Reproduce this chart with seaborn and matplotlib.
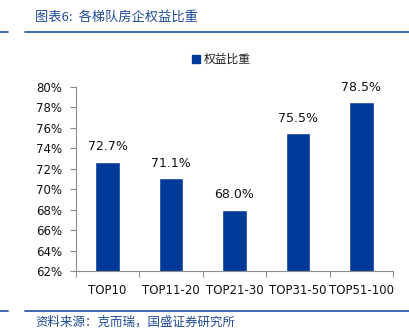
import matplotlib
matplotlib.use("Agg")
import matplotlib.pyplot as plt
from matplotlib.lines import Line2D
from matplotlib.patches import Rectangle
import seaborn as sns
import pandas as pd

categories = ["TOP10", "TOP11-20", "TOP21-30", "TOP31-50", "TOP51-100"]
equity_share = [72.7, 71.1, 68.0, 75.5, 78.5]
y_ticks = [62, 64, 66, 68, 70, 72, 74, 76, 78, 80]
series_name = "权益比重"
title_text = "图表6:  各梯队房企权益比重"
source_text = "资料来源：克而瑞，国盛证券研究所"

bar_color = "#003A98"
rule_color = "#2F5EA6"

sns.set_theme(style="white")
plt.rcParams["font.family"] = ["DejaVu Sans", "Noto Sans CJK SC"]

df = pd.DataFrame({"tier": categories, "share": equity_share})

fig = plt.figure(figsize=(4.10, 3.33), dpi=100)
ax = fig.add_axes([0.185, 0.186, 0.774, 0.553])

sns.barplot(data=df, x="tier", y="share", color=bar_color, width=0.39,
            saturation=1, ax=ax)

ax.set_ylim(62, 80)
ax.set_xlim(-0.5, len(categories) - 0.5)
ax.set_yticks(y_ticks)
ax.set_yticklabels([f"{v}%" for v in y_ticks], fontsize=8.5, color="#111111")
ax.set_xticks(range(len(categories)))
ax.set_xticklabels(categories, fontsize=8.5, color="#111111")
ax.set_xlabel("")
ax.set_ylabel("")

for side in ("top", "right"):
    ax.spines[side].set_visible(False)
for side in ("left", "bottom"):
    ax.spines[side].set_color("#8C8C8C")
    ax.spines[side].set_linewidth(0.8)

# y ticks: short marks pointing left
ax.tick_params(axis="y", which="major", length=4, width=0.8, color="#8C8C8C",
               direction="out", pad=6, left=True)
# x axis: tick marks sit at category boundaries
ax.tick_params(axis="x", which="major", length=0, pad=9, bottom=True)
ax.set_xticks([i - 0.5 for i in range(len(categories) + 1)], minor=True)
ax.tick_params(axis="x", which="minor", length=4, width=0.8, color="#8C8C8C",
               direction="out", bottom=True)

for i, v in enumerate(equity_share):
    ax.text(i, v + 0.8, f"{v:.1f}%", ha="center", va="bottom",
            fontsize=9, color="#111111")

# legend: square marker and series name above the plot
fig.patches.append(Rectangle((192 / 410, 1 - 63 / 333), 8 / 410, 8 / 333,
                             transform=fig.transFigure, color=bar_color))
fig.text(204 / 410, 1 - 59 / 333, series_name, ha="left", va="center",
         fontsize=8.5, color="#222222", family=["Noto Sans CJK SC"])

# header and footer rules
for ypix in (32, 311):
    yy = 1 - ypix / 333
    fig.add_artist(Line2D([0, 8 / 410], [yy, yy], transform=fig.transFigure,
                          color=rule_color, linewidth=1.3))
    fig.add_artist(Line2D([25 / 410, 1], [yy, yy], transform=fig.transFigure,
                          color=rule_color, linewidth=1.3))

fig.text(35 / 410, 1 - 17 / 333, title_text, ha="left", va="center",
         fontsize=9.5, color="#1F4A96", style="italic",
         family=["Noto Sans CJK SC", "DejaVu Sans"])
fig.text(35 / 410, 1 - 322 / 333, source_text, ha="left", va="center",
         fontsize=9, color="#1F4A96", style="italic",
         family=["Noto Sans CJK SC", "DejaVu Sans"])

fig.savefig("out.png", dpi=100, facecolor="white")
